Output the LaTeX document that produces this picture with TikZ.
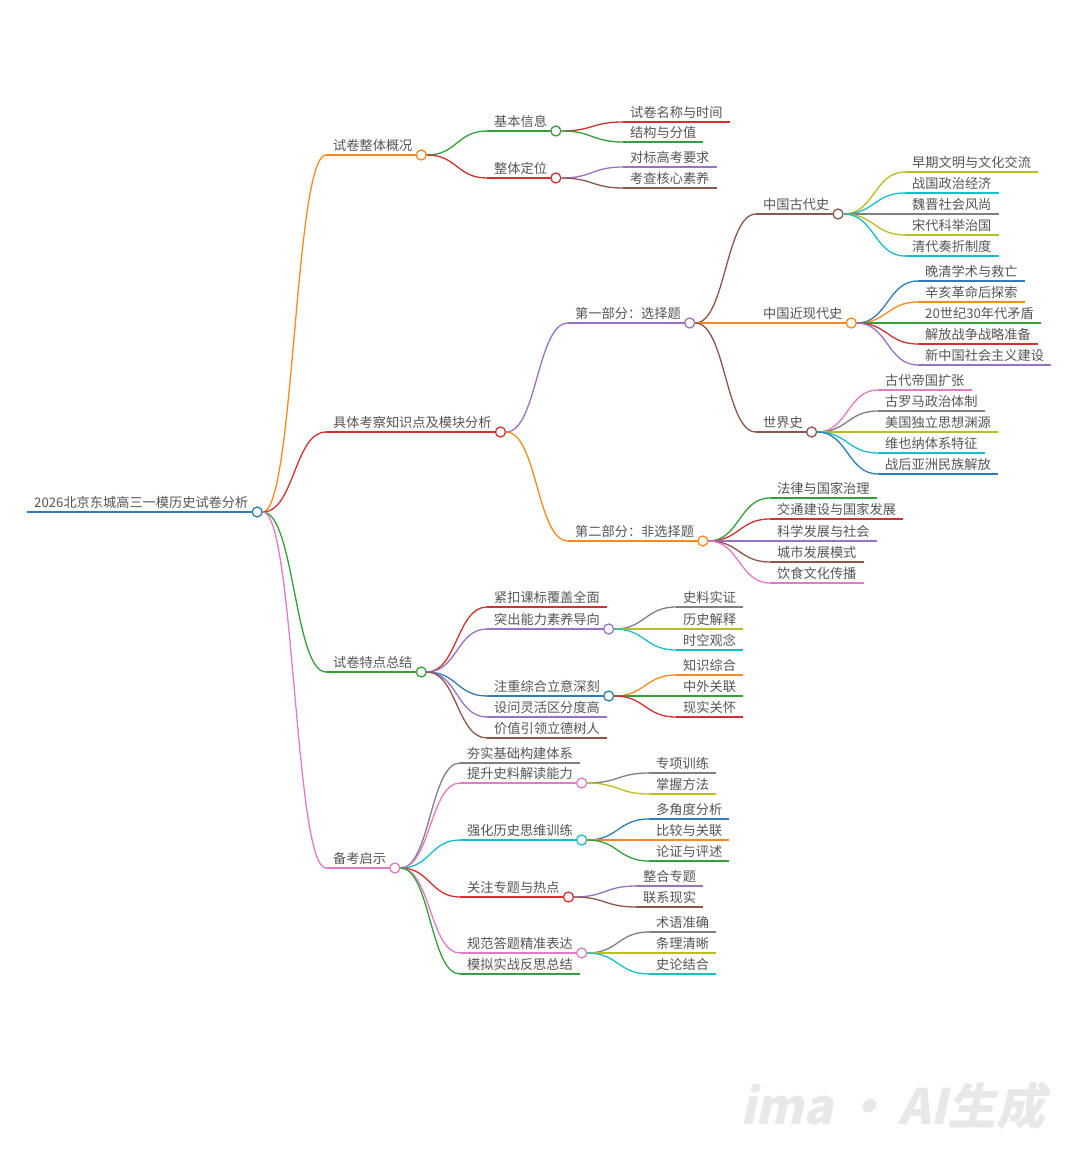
\documentclass[tikz,border=0pt]{standalone}
\usepackage{fontspec}
\usepackage{graphicx}
\setmainfont{Noto Sans CJK SC}
\newfontfamily\wmfont[FakeSlant=0.22]{Noto Sans CJK SC}
\usetikzlibrary{calc}
\definecolor{cblue}{HTML}{2F7DB8}
\definecolor{corange}{HTML}{FB8A1C}
\definecolor{cgreen}{HTML}{34A03A}
\definecolor{cred}{HTML}{D2322F}
\definecolor{cpurple}{HTML}{9A72C4}
\definecolor{cbrown}{HTML}{8C564B}
\definecolor{cpink}{HTML}{E27BC6}
\definecolor{cgray}{HTML}{808080}
\definecolor{colive}{HTML}{BCBD22}
\definecolor{ccyan}{HTML}{17BECF}
\definecolor{txtgray}{HTML}{555555}
\definecolor{wmgray}{HTML}{E8E8E8}
\tikzset{
  lbl/.style={font=\fontsize{13.2}{15}\selectfont, text=txtgray, inner xsep=7pt, inner ysep=4.2pt, text depth=0pt, anchor=south west},
  ln/.style={draw=#1, line width=1.3pt},
  dot/.style={circle, draw=#1, fill=white, line width=1.3pt, minimum size=10pt, inner sep=0pt, anchor=west}
}
\newcommand\mmnode[5]{\node[lbl] (#1) at ({#2-7},#3) {#5}; \draw[ln=#4] (#1.south west) -- (#1.south east);}
\newcommand\mmdot[2]{\node[dot=#2] (#1-dot) at ([xshift=-4pt]#1.south east) {};}
\newcommand\mmlink[3]{\draw[ln=#3] let \p1=(#1-dot.east), \p2=(#2.south west) in (\p1) .. controls ({(\x1+\x2)/2},\y1) and ({(\x1+\x2)/2},\y2) .. (\p2);}
\begin{document}
\begin{tikzpicture}[x=1pt,y=-1pt]
\useasboundingbox (0,0) rectangle (1080,1166);
\fill[white] (0,0) rectangle (1080,1166);
% root
\mmnode{r}{34}{512}{cblue}{2026北京东城高三一模历史试卷分析}
% level 1
\mmnode{a}{333}{155}{corange}{试卷整体概况}
\mmnode{b}{333}{432}{cred}{具体考察知识点及模块分析}
\mmnode{c}{333}{672}{cgreen}{试卷特点总结}
\mmnode{d}{333}{868}{cpink}{备考启示}
% a children
\mmnode{aa}{494}{131}{cgreen}{基本信息}
\mmnode{ab}{494}{178}{cred}{整体定位}
\mmnode{aaa}{630}{122}{cred}{试卷名称与时间}
\mmnode{aab}{630}{142}{cgreen}{结构与分值}
\mmnode{aba}{630}{167}{cpurple}{对标高考要求}
\mmnode{abb}{630}{188}{cbrown}{考查核心素养}
% b children
\mmnode{ba}{575}{323}{cpurple}{第一部分：选择题}
\mmnode{bb}{575}{541}{corange}{第二部分：非选择题}
\mmnode{baa}{763}{214}{cbrown}{中国古代史}
\mmnode{bab}{763}{323}{corange}{中国近现代史}
\mmnode{bac}{763}{432}{cbrown}{世界史}
\mmnode{baa1}{912}{172}{colive}{早期文明与文化交流}
\mmnode{baa2}{912}{193}{ccyan}{战国政治经济}
\mmnode{baa3}{912}{214}{cgray}{魏晋社会风尚}
\mmnode{baa4}{912}{235}{colive}{宋代科举治国}
\mmnode{baa5}{912}{256}{ccyan}{清代奏折制度}
\mmnode{bab1}{925}{281}{cblue}{晚清学术与救亡}
\mmnode{bab2}{925}{302}{corange}{辛亥革命后探索}
\mmnode{bab3}{925}{323}{cgreen}{20世纪30年代矛盾}
\mmnode{bab4}{925}{344}{cred}{解放战争战略准备}
\mmnode{bab5}{925}{365}{cpurple}{新中国社会主义建设}
\mmnode{bac1}{885}{390}{cpink}{古代帝国扩张}
\mmnode{bac2}{885}{411}{cgray}{古罗马政治体制}
\mmnode{bac3}{885}{432}{colive}{美国独立思想渊源}
\mmnode{bac4}{885}{453}{ccyan}{维也纳体系特征}
\mmnode{bac5}{885}{474}{cblue}{战后亚洲民族解放}
\mmnode{bb1}{777}{498}{cgreen}{法律与国家治理}
\mmnode{bb2}{777}{519}{cred}{交通建设与国家发展}
\mmnode{bb3}{777}{541}{cpurple}{科学发展与社会}
\mmnode{bb4}{777}{562}{cbrown}{城市发展模式}
\mmnode{bb5}{777}{583}{cpink}{饮食文化传播}
% c children
\mmnode{ca}{494}{607}{cred}{紧扣课标覆盖全面}
\mmnode{cb}{494}{629}{cpurple}{突出能力素养导向}
\mmnode{cc}{494}{696}{cblue}{注重综合立意深刻}
\mmnode{cd}{494}{717}{cpurple}{设问灵活区分度高}
\mmnode{ce}{494}{738}{cbrown}{价值引领立德树人}
\mmnode{cb1}{683}{607}{cgray}{史料实证}
\mmnode{cb2}{683}{629}{colive}{历史解释}
\mmnode{cb3}{683}{650}{ccyan}{时空观念}
\mmnode{cc1}{683}{675}{corange}{知识综合}
\mmnode{cc2}{683}{696}{cgreen}{中外关联}
\mmnode{cc3}{683}{717}{cred}{现实关怀}
% d children
\mmnode{da}{467}{763}{cgray}{夯实基础构建体系}
\mmnode{db}{467}{783}{cpink}{提升史料解读能力}
\mmnode{dc}{467}{840}{ccyan}{强化历史思维训练}
\mmnode{dd}{467}{897}{cred}{关注专题与热点}
\mmnode{de}{467}{953}{cpink}{规范答题精准表达}
\mmnode{df}{467}{974}{cgreen}{模拟实战反思总结}
\mmnode{db1}{656}{773}{cgray}{专项训练}
\mmnode{db2}{656}{794}{colive}{掌握方法}
\mmnode{dc1}{656}{819}{cblue}{多角度分析}
\mmnode{dc2}{656}{840}{corange}{比较与关联}
\mmnode{dc3}{656}{861}{cgreen}{论证与评述}
\mmnode{dd1}{643}{886}{cpurple}{整合专题}
\mmnode{dd2}{643}{907}{cbrown}{联系现实}
\mmnode{de1}{656}{932}{cgray}{术语准确}
\mmnode{de2}{656}{953}{colive}{条理清晰}
\mmnode{de3}{656}{974}{ccyan}{史论结合}
% dots
\mmdot{r}{cblue}
\mmdot{a}{corange}
\mmdot{b}{cred}
\mmdot{c}{cgreen}
\mmdot{d}{cpink}
\mmdot{aa}{cgreen}
\mmdot{ab}{cred}
\mmdot{ba}{cpurple}
\mmdot{bb}{corange}
\mmdot{baa}{cbrown}
\mmdot{bab}{corange}
\mmdot{bac}{cbrown}
\mmdot{cb}{cpurple}
\mmdot{cc}{cblue}
\mmdot{db}{cpink}
\mmdot{dc}{ccyan}
\mmdot{dd}{cred}
\mmdot{de}{cpink}
% links
\mmlink{r}{a}{corange}
\mmlink{r}{b}{cred}
\mmlink{r}{c}{cgreen}
\mmlink{r}{d}{cpink}
\mmlink{a}{aa}{cgreen}
\mmlink{a}{ab}{cred}
\mmlink{aa}{aaa}{cred}
\mmlink{aa}{aab}{cgreen}
\mmlink{ab}{aba}{cpurple}
\mmlink{ab}{abb}{cbrown}
\mmlink{b}{ba}{cpurple}
\mmlink{b}{bb}{corange}
\mmlink{ba}{baa}{cbrown}
\mmlink{ba}{bab}{corange}
\mmlink{ba}{bac}{cbrown}
\mmlink{baa}{baa1}{colive}
\mmlink{baa}{baa2}{ccyan}
\mmlink{baa}{baa3}{cgray}
\mmlink{baa}{baa4}{colive}
\mmlink{baa}{baa5}{ccyan}
\mmlink{bab}{bab1}{cblue}
\mmlink{bab}{bab2}{corange}
\mmlink{bab}{bab3}{cgreen}
\mmlink{bab}{bab4}{cred}
\mmlink{bab}{bab5}{cpurple}
\mmlink{bac}{bac1}{cpink}
\mmlink{bac}{bac2}{cgray}
\mmlink{bac}{bac3}{colive}
\mmlink{bac}{bac4}{ccyan}
\mmlink{bac}{bac5}{cblue}
\mmlink{bb}{bb1}{cgreen}
\mmlink{bb}{bb2}{cred}
\mmlink{bb}{bb3}{cpurple}
\mmlink{bb}{bb4}{cbrown}
\mmlink{bb}{bb5}{cpink}
\mmlink{c}{ca}{cred}
\mmlink{c}{cb}{cpurple}
\mmlink{c}{cc}{cblue}
\mmlink{c}{cd}{cpurple}
\mmlink{c}{ce}{cbrown}
\mmlink{cb}{cb1}{cgray}
\mmlink{cb}{cb2}{colive}
\mmlink{cb}{cb3}{ccyan}
\mmlink{cc}{cc1}{corange}
\mmlink{cc}{cc2}{cgreen}
\mmlink{cc}{cc3}{cred}
\mmlink{d}{da}{cgray}
\mmlink{d}{db}{cpink}
\mmlink{d}{dc}{ccyan}
\mmlink{d}{dd}{cred}
\mmlink{d}{de}{cpink}
\mmlink{d}{df}{cgreen}
\mmlink{db}{db1}{cgray}
\mmlink{db}{db2}{colive}
\mmlink{dc}{dc1}{cblue}
\mmlink{dc}{dc2}{corange}
\mmlink{dc}{dc3}{cgreen}
\mmlink{dd}{dd1}{cpurple}
\mmlink{dd}{dd2}{cbrown}
\mmlink{de}{de1}{cgray}
\mmlink{de}{de2}{colive}
\mmlink{de}{de3}{ccyan}
% watermark
\node[text=wmgray, inner sep=0pt, anchor=south west] (wm) at (740,1130) {\resizebox{305pt}{!}{\wmfont\bfseries ima\,·\,AI生成}};
\end{tikzpicture}
\end{document}
